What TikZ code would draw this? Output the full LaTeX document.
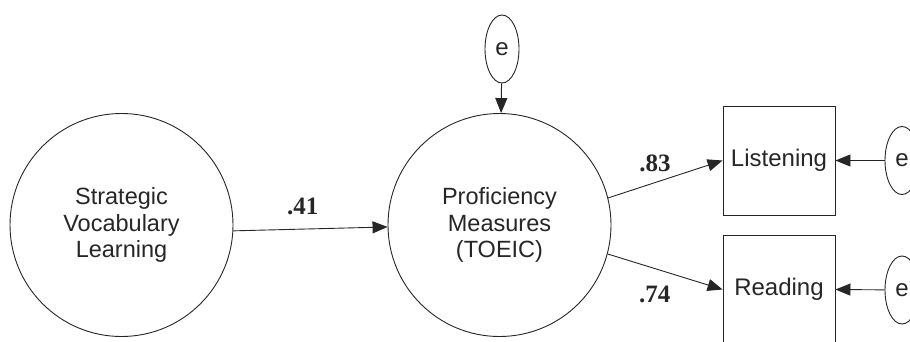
\documentclass[tikz,border=0pt]{standalone}
\usepackage{fontspec}
\setmainfont{Liberation Sans}
\newfontfamily\coeffont{Liberation Serif}
\usetikzlibrary{arrows.meta,positioning,shapes.geometric}

\begin{document}
\begin{tikzpicture}[x=1pt,y=-1pt,
    latent/.style={circle,draw,minimum size=223pt,inner sep=0pt,align=center,
      font=\fontsize{23.5}{26.5}\selectfont},
    observed/.style={rectangle,draw,minimum width=112pt,minimum height=109pt,inner sep=0pt,
      font=\fontsize{24}{26.5}\selectfont},
    resid/.style={ellipse,draw,minimum width=34pt,minimum height=68pt,inner sep=0pt,
      font=\fontsize{24}{26.5}\selectfont},
    coef/.style={inner sep=2pt,font=\coeffont\bfseries\fontsize{25}{28}\selectfont}]
      \useasboundingbox (0,0) rectangle (910,342);
      \draw[line width=0.9pt,black!85]
        (121.5,225) node[latent] (svl){Strategic\\Vocabulary\\Learning}
        (499.5,225) node[latent] (pm){Proficiency\\Measures\\(TOEIC)}
        (502,49) node[resid] (e1){e}
        (779,160.5) node[observed] (lis){Listening}
        (779,289.5) node[observed] (rea){Reading}
        (902,160.5) node[resid] (e2){e}
        (902,290) node[resid] (e3){e};
      \begin{scope}[-{Triangle[length=15pt,width=12pt]},line width=0.9pt,black!85]
        \draw (svl.-3) to node[coef,above=12pt,pos=0.45] {.41} (pm.181);
        \draw (e1) to (pm);
        \draw (pm.14.5) to node[coef,above=8pt,pos=0.41] {.83} (lis.west);
        \draw (pm.-15) to node[coef,below=15pt,pos=0.41] {.74} (rea.west);
        \draw (e2) to (lis.east);
        \draw (e3) to (rea.east);
      \end{scope}
    \end{tikzpicture}
\end{document}
